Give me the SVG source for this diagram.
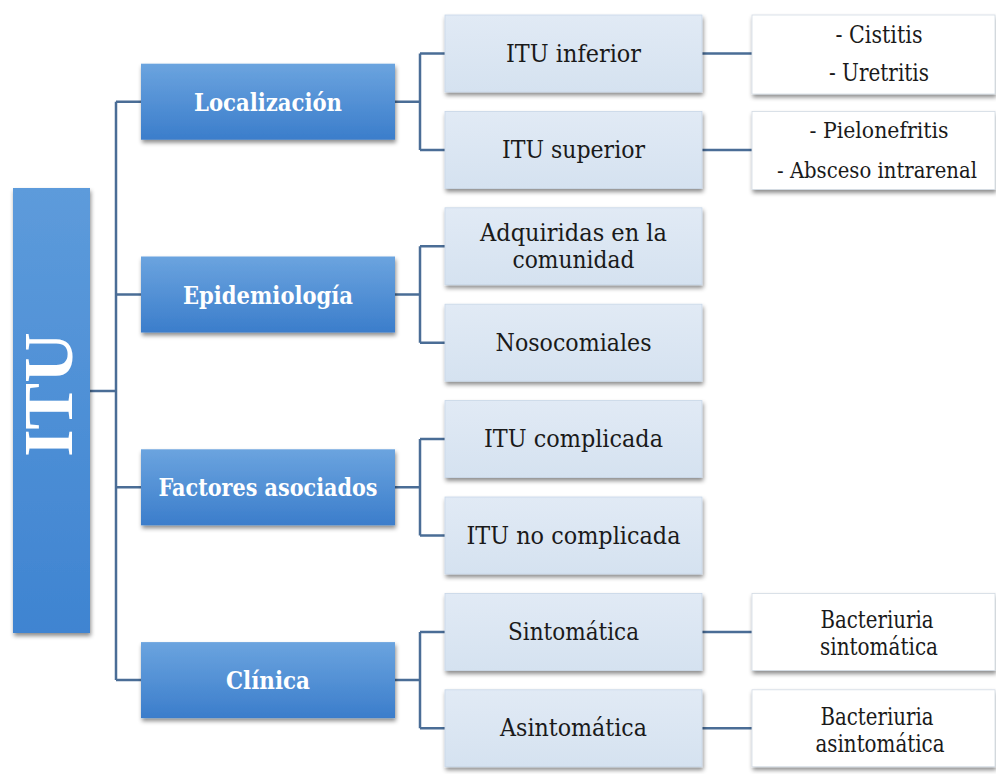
<svg xmlns="http://www.w3.org/2000/svg" width="996" height="774" viewBox="0 0 996 774">
<defs>
  <linearGradient id="gBlue" x1="0" y1="0" x2="0" y2="1">
    <stop offset="0" stop-color="#6ba4df"/>
    <stop offset="1" stop-color="#3b7dcb"/>
  </linearGradient>
  <linearGradient id="gRoot" x1="0" y1="0" x2="0" y2="1">
    <stop offset="0" stop-color="#5d9bdb"/>
    <stop offset="1" stop-color="#3f84d1"/>
  </linearGradient>
  <linearGradient id="gLight" x1="0" y1="0" x2="0" y2="1">
    <stop offset="0" stop-color="#e1eaf5"/>
    <stop offset="1" stop-color="#d5e2f0"/>
  </linearGradient>
  <filter id="sh" x="-10%" y="-10%" width="120%" height="130%">
    <feDropShadow dx="1" dy="3" stdDeviation="2" flood-color="#000" flood-opacity="0.45"/>
  </filter>
</defs>
<style>
  .l1 { fill: url(#gBlue); filter: url(#sh); }
  .l2 { fill: url(#gLight); stroke: #c9d7e8; stroke-width: 0.8; filter: url(#sh); }
  .l3 { fill: #ffffff; stroke: #d3dbe4; stroke-width: 0.8; filter: url(#sh); }
  .conn { fill: none; stroke: #4a6d96; stroke-width: 2.5; }
</style>
<rect width="996" height="774" fill="#ffffff"/>

<g id="connectors">
  <path class="conn" d="M90,391 H116 M116,101.7 V680.1 M116,101.7 H141 M116,294.5 H141 M116,487.3 H141 M116,680.1 H141"/>
  <path class="conn" d="M395,101.7 H420 M420,53.5 V149.9 M420,53.5 H445 M420,149.9 H445"/>
  <path class="conn" d="M395,294.5 H420 M420,246.3 V342.7 M420,246.3 H445 M420,342.7 H445"/>
  <path class="conn" d="M395,487.3 H420 M420,439.1 V535.5 M420,439.1 H445 M420,535.5 H445"/>
  <path class="conn" d="M395,680.1 H420 M420,631.9 V728.3 M420,631.9 H445 M420,728.3 H445"/>
  <path class="conn" d="M702,53.5 H752 M702,149.9 H752 M702,631.9 H752 M702,728.3 H752"/>
</g>

<g id="itu">
  <rect x="13" y="188" width="77" height="445" fill="url(#gRoot)" filter="url(#sh)"/>
  <text transform="translate(72,394.5) rotate(-90)" font-family="Liberation Serif, serif" font-weight="bold" font-size="70" fill="#ffffff" text-anchor="middle">ITU</text>
</g>

<g font-family="DejaVu Serif, serif" text-anchor="middle">
<g id="localizacion">
  <rect class="l1" x="141" y="63.7" width="254" height="76"/>
  <text x="268" y="111" font-weight="bold" font-size="25" fill="#ffffff" textLength="148" lengthAdjust="spacingAndGlyphs">Localización</text>
</g>
<g id="epidemiologia">
  <rect class="l1" x="141" y="256.5" width="254" height="76"/>
  <text x="268" y="303.5" font-weight="bold" font-size="25" fill="#ffffff" textLength="170" lengthAdjust="spacingAndGlyphs">Epidemiología</text>
</g>
<g id="factores">
  <rect class="l1" x="141" y="449.3" width="254" height="76"/>
  <text x="268" y="496.3" font-weight="bold" font-size="25" fill="#ffffff" textLength="219" lengthAdjust="spacingAndGlyphs">Factores asociados</text>
</g>
<g id="clinica">
  <rect class="l1" x="141" y="642.1" width="254" height="76"/>
  <text x="268" y="689.1" font-weight="bold" font-size="25" fill="#ffffff" textLength="84" lengthAdjust="spacingAndGlyphs">Clínica</text>
</g>

<g id="itu-inferior">
  <rect class="l2" x="445" y="15" width="257" height="77"/>
  <text x="573.5" y="61.5" font-size="25" fill="#1a1a1a" textLength="135" lengthAdjust="spacingAndGlyphs">ITU inferior</text>
</g>
<g id="itu-superior">
  <rect class="l2" x="445" y="111.4" width="257" height="77"/>
  <text x="573.5" y="157.9" font-size="25" fill="#1a1a1a" textLength="143" lengthAdjust="spacingAndGlyphs">ITU superior</text>
</g>
<g id="adquiridas">
  <rect class="l2" x="445" y="207.8" width="257" height="77"/>
  <text x="573.5" y="240.5" font-size="25" fill="#1a1a1a" textLength="187" lengthAdjust="spacingAndGlyphs">Adquiridas en la</text>
  <text x="573.5" y="268" font-size="25" fill="#1a1a1a" textLength="122" lengthAdjust="spacingAndGlyphs">comunidad</text>
</g>
<g id="nosocomiales">
  <rect class="l2" x="445" y="304.2" width="257" height="77"/>
  <text x="573.5" y="350.7" font-size="25" fill="#1a1a1a" textLength="156" lengthAdjust="spacingAndGlyphs">Nosocomiales</text>
</g>
<g id="itu-complicada">
  <rect class="l2" x="445" y="400.6" width="257" height="77"/>
  <text x="573.5" y="447.1" font-size="25" fill="#1a1a1a" textLength="179" lengthAdjust="spacingAndGlyphs">ITU complicada</text>
</g>
<g id="itu-no-complicada">
  <rect class="l2" x="445" y="497" width="257" height="77"/>
  <text x="573.5" y="543.5" font-size="25" fill="#1a1a1a" textLength="214" lengthAdjust="spacingAndGlyphs">ITU no complicada</text>
</g>
<g id="sintomatica">
  <rect class="l2" x="445" y="593.4" width="257" height="77"/>
  <text x="573.5" y="639.9" font-size="25" fill="#1a1a1a" textLength="131" lengthAdjust="spacingAndGlyphs">Sintomática</text>
</g>
<g id="asintomatica">
  <rect class="l2" x="445" y="689.8" width="257" height="77"/>
  <text x="573.5" y="736.3" font-size="25" fill="#1a1a1a" textLength="147" lengthAdjust="spacingAndGlyphs">Asintomática</text>
</g>

<g id="cistitis-uretritis">
  <rect class="l3" x="752" y="15" width="243" height="79"/>
  <text x="879" y="43" font-size="23.5" fill="#1a1a1a" textLength="87" lengthAdjust="spacingAndGlyphs">- Cistitis</text>
  <text x="879" y="81" font-size="23.5" fill="#1a1a1a" textLength="100" lengthAdjust="spacingAndGlyphs">- Uretritis</text>
</g>
<g id="pielonefritis-absceso">
  <rect class="l3" x="752" y="111.4" width="243" height="78"/>
  <text x="879" y="138" font-size="23" fill="#1a1a1a" textLength="139" lengthAdjust="spacingAndGlyphs">- Pielonefritis</text>
  <text x="877" y="178" font-size="23" fill="#1a1a1a" textLength="200" lengthAdjust="spacingAndGlyphs">- Absceso intrarenal</text>
</g>
<g id="bacteriuria-sintomatica">
  <rect class="l3" x="752" y="593.4" width="243" height="77"/>
  <text x="877" y="627.5" font-size="23.5" fill="#1a1a1a" textLength="113" lengthAdjust="spacingAndGlyphs">Bacteriuria</text>
  <text x="879" y="654.5" font-size="23.5" fill="#1a1a1a" textLength="118" lengthAdjust="spacingAndGlyphs">sintomática</text>
</g>
<g id="bacteriuria-asintomatica">
  <rect class="l3" x="752" y="689.8" width="243" height="77"/>
  <text x="877" y="724.5" font-size="23.5" fill="#1a1a1a" textLength="113" lengthAdjust="spacingAndGlyphs">Bacteriuria</text>
  <text x="880" y="751.5" font-size="23.5" fill="#1a1a1a" textLength="129" lengthAdjust="spacingAndGlyphs">asintomática</text>
</g>
</g>
</svg>
